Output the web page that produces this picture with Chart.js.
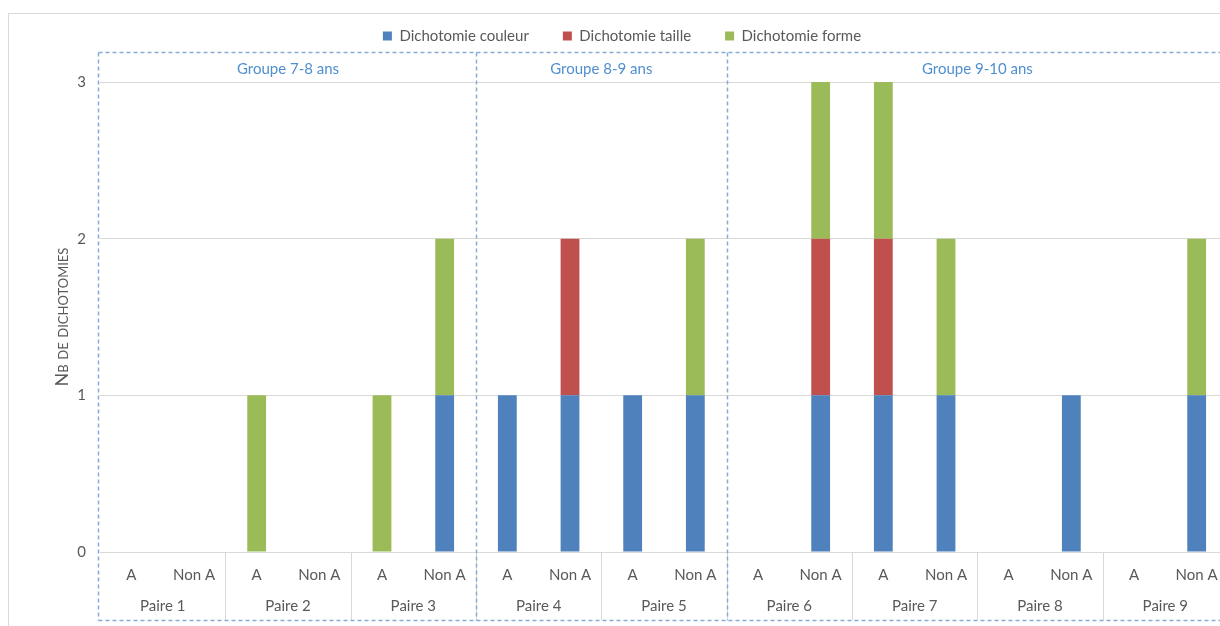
<!DOCTYPE html>
<html>
<head>
<meta charset="utf-8">
<script src="https://cdn.jsdelivr.net/npm/chart.js@4/dist/chart.umd.min.js"></script>
<style>
  html, body { margin: 0; padding: 0; background: #ffffff; overflow: hidden; width: 1220px; height: 626px; }
  #wrap { position: absolute; left: 0; top: 0; width: 1236px; height: 626px; }
</style>
</head>
<body>
<div id="wrap"><canvas id="c"></canvas></div>
<script>
// ---- data ----
const categories = ['A','Non A','A','Non A','A','Non A','A','Non A','A','Non A','A','Non A','A','Non A','A','Non A','A','Non A'];
const pairLabels = ['Paire 1','Paire 2','Paire 3','Paire 4','Paire 5','Paire 6','Paire 7','Paire 8','Paire 9'];
const groupLabels = ['Groupe 7-8 ans','Groupe 8-9 ans','Groupe 9-10 ans'];
const groupPairCounts = [3, 2, 4];
const seriesNames = ['Dichotomie couleur','Dichotomie taille','Dichotomie forme'];
const couleurValues = [0,0,0,0,0,1,1,1,1,1,0,1,1,1,0,1,0,1];
const tailleValues  = [0,0,0,0,0,0,0,1,0,0,0,1,1,0,0,0,0,0];
const formeValues   = [0,0,1,0,1,1,0,0,0,1,0,1,1,1,0,0,0,1];
const yTicks = [0,1,2,3];
const yTitle = 'Nb de dichotomies';

const FONT = 'Lato';
const FS = 15;
const TXT = '#595959';
const GRID = '#D9D9D9';
const DASH = '#86ABD6';
const GROUPTXT = '#4F8FD0';
const LEGEND_PAD = 34;

const decor = {
  id: 'decor',
  afterLayout(chart) {
    if (chart.legend) chart.legend.top = 36 - FS / 2 - LEGEND_PAD;
  },
  beforeDraw(chart) {
    const ctx = chart.ctx;
    ctx.save();
    ctx.strokeStyle = '#D9D9D9';
    ctx.lineWidth = 1;
    ctx.strokeRect(8.5, 13.5, 2000, 2000);
    ctx.restore();
  },
  afterDraw(chart) {
    const ctx = chart.ctx;
    const x = chart.scales.x;
    const area = chart.chartArea;
    const half = (x.getPixelForValue(1) - x.getPixelForValue(0)) / 2;
    ctx.save();
    // pair separators and labels
    ctx.strokeStyle = GRID;
    ctx.lineWidth = 1;
    ctx.fillStyle = TXT;
    ctx.font = FS + 'px ' + FONT;
    ctx.textAlign = 'center';
    ctx.textBaseline = 'middle';
    pairLabels.forEach((p, i) => {
      const l = x.getPixelForValue(2 * i) - half;
      const r = x.getPixelForValue(2 * i + 1) + half;
      if (i > 0) {
        ctx.beginPath();
        ctx.moveTo(Math.round(l) + 0.5, area.bottom);
        ctx.lineTo(Math.round(l) + 0.5, 620);
        ctx.stroke();
      }
      ctx.fillText(p, (l + r) / 2, 606);
    });
    // group boxes (dashed)
    const top = 52.5, bot = 620.5;
    ctx.save();
    ctx.strokeStyle = DASH;
    ctx.lineWidth = 1.5;
    ctx.setLineDash([4, 3]);
    const leftEdge = Math.round(area.left - 2) + 0.5;
    ctx.beginPath();
    ctx.moveTo(leftEdge, top); ctx.lineTo(1300, top);
    ctx.moveTo(leftEdge, bot); ctx.lineTo(1300, bot);
    ctx.stroke();
    ctx.restore();
    let start = 0;
    groupLabels.forEach((g, gi) => {
      const n = groupPairCounts[gi] * 2;
      const l = x.getPixelForValue(start) - half;
      const r = x.getPixelForValue(start + n - 1) + half;
      const vx = gi === 0 ? leftEdge : Math.round(l) + 0.5;
      ctx.save();
      ctx.strokeStyle = DASH;
      ctx.lineWidth = 1.5;
      ctx.setLineDash([4, 3]);
      ctx.beginPath();
      ctx.moveTo(vx, top); ctx.lineTo(vx, bot);
      ctx.stroke();
      ctx.restore();
      ctx.fillStyle = GROUPTXT;
      ctx.font = FS + 'px ' + FONT;
      ctx.fillText(g, (l + r) / 2, 69);
      start += n;
    });
    // y title in small caps
    ctx.save();
    ctx.translate(62, (area.top + area.bottom) / 2);
    ctx.rotate(-Math.PI / 2);
    ctx.fillStyle = TXT;
    ctx.font = '18px ' + FONT;
    try { ctx.fontVariantCaps = 'small-caps'; } catch (e) {}
    ctx.textAlign = 'center';
    ctx.textBaseline = 'middle';
    ctx.fillText(yTitle, 0, 0);
    ctx.restore();
    ctx.restore();
  }
};

new Chart(document.getElementById('c'), {
  type: 'bar',
  data: {
    labels: categories,
    datasets: [
      { label: seriesNames[0], data: couleurValues, backgroundColor: '#4F81BD' },
      { label: seriesNames[1], data: tailleValues,  backgroundColor: '#C0504D' },
      { label: seriesNames[2], data: formeValues,   backgroundColor: '#9BBB59' }
    ]
  },
  options: {
    responsive: true,
    maintainAspectRatio: false,
    devicePixelRatio: 1,
    animation: false,
    datasets: { bar: { barPercentage: 0.3, categoryPercentage: 1.0 } },
    layout: { padding: { left: 16, right: 8, top: 23, bottom: 0 } },
    plugins: {
      tooltip: { enabled: false },
      legend: {
        position: 'top',
        labels: {
          boxWidth: 9, boxHeight: 9, padding: LEGEND_PAD,
          color: TXT, font: { family: FONT, size: FS }
        }
      }
    },
    scales: {
      x: {
        stacked: true,
        grid: { display: false },
        border: { display: true, color: GRID },
        ticks: { color: TXT, font: { family: FONT, size: FS }, padding: 6, maxRotation: 0, autoSkip: false },
        afterFit(s) { s.height = 74; }
      },
      y: {
        stacked: true,
        min: 0, max: 3,
        afterBuildTicks(s) { s.ticks = yTicks.map(v => ({ value: v })); },
        grid: { color: GRID, drawTicks: false },
        border: { display: false },
        ticks: { color: TXT, font: { family: FONT, size: FS }, padding: 14 },
        afterFit(s) { s.width = 84; }
      }
    }
  },
  plugins: [decor]
});
</script>
</body>
</html>
